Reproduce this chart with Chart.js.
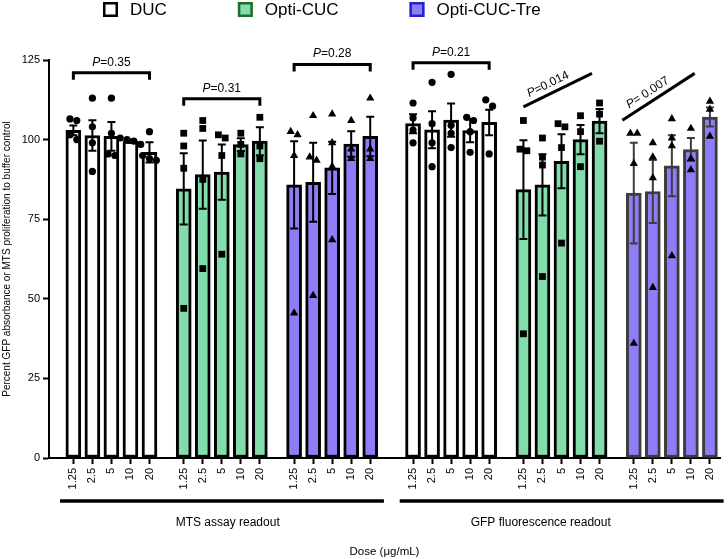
<!DOCTYPE html>
<html>
<head>
<meta charset="utf-8">
<script src="https://cdn.jsdelivr.net/npm/chart.js@4.4.1/dist/chart.umd.min.js"></script>
<style>
  html, body { margin: 0; padding: 0; background: #fff; }
  #wrap { width: 728px; height: 559px; position: relative; }
</style>
</head>
<body>
<div id="wrap"><canvas id="myChart"></canvas></div>
<script>
// categorias
const seriesNames = ["DUC", "Opti-CUC", "Opti-CUC-Tre"];
const readouts = ["MTS assay readout", "GFP fluorescence readout"];
const doseLabels = ["1.25", "2.5", "5", "10", "20"];
const yTicks = [0, 25, 50, 75, 100, 125];

// medias de cada barra
const ducMTS = [102.9, 101.3, 101.0, 99.5, 96.0];
const ducGFP = [105.0, 103.1, 106.1, 102.8, 105.4];
const cucMTS = [84.5, 89.0, 89.8, 98.4, 99.5];
const cucGFP = [84.3, 85.8, 93.2, 100.0, 105.8];
const treMTS = [85.8, 86.6, 91.1, 98.6, 101.0];
const treGFP = [83.2, 83.7, 91.8, 96.9, 107.1];

// error (SEM)
const ducMTSerr = [1.5, 4.8, 4.5, 0.5, 3.2];
const ducGFPerr = [3.0, 5.8, 5.2, 3.6, 4.0];
const cucMTSerr = [11.2, 10.7, 8.7, 2.0, 4.4];
const cucGFPerr = [15.5, 9.6, 8.5, 4.6, 3.8];
const treMTSerr = [13.7, 12.4, 8.2, 4.0, 6.2];
const treGFPerr = [15.8, 9.9, 9.6, 3.6, 3.0];

// puntos individuales
const ducMTSpts = [[106, 106.5, 101.5, 100], [113, 104, 99, 90], [113, 102, 95.5, 95], [100.5, 100, 99.5, 98.5], [102.5, 95, 94, 93.5]];
const ducGFPpts = [[111.5, 106.8, 103, 99], [118, 105, 99, 91.5], [120.5, 104.5, 102, 97.5], [107, 106, 102.5, 96], [112.5, 110.5, 95.5]];
const cucMTSpts = [[102, 98, 91, 47], [103.5, 106, 87.5, 59.5], [100.5, 101.5, 95, 64], [102, 98.5, 95.5], [107, 98, 94]];
const cucGFPpts = [[106, 97, 96.5, 39], [100.5, 94.5, 92, 57], [104, 105, 97.5, 67.5], [107.5, 102.5, 91.5], [111.5, 108, 99.5]];
const treMTSpts = [[101.5, 102.5, 95, 45.5], [107.5, 94.5, 93.5, 51], [108, 99, 91.5, 68.5], [106, 97, 94], [113, 97, 94]];
const treGFPpts = [[102, 102, 92.5, 36], [99, 94.5, 88, 53.5], [106.5, 100.5, 98, 63.5], [103.5, 94, 90.5], [112, 109.5, 101]];

// comparaciones (P)
const pLabels = ["P=0.35", "P=0.31", "P=0.28", "P=0.21", "P=0.014", "P= 0.007"];
const pStartLevel = [121.0, 112.8, 123.6, 124.1, 110.3, 106.1];
const pEndLevel = [121.0, 112.8, 123.6, 124.1, 120.8, 120.8];
const pStartDose = [0, 0, 0, 0, 0, -0.6];
const pEndDose = [4, 4, 4, 4, 3.6, 3.2];

const means = [[ducMTS, ducGFP], [cucMTS, cucGFP], [treMTS, treGFP]];
const errs = [[ducMTSerr, ducGFPerr], [cucMTSerr, cucGFPerr], [treMTSerr, treGFPerr]];
const pts = [[ducMTSpts, ducGFPpts], [cucMTSpts, cucGFPpts], [treMTSpts, treGFPpts]];

const FONT = "'Liberation Sans', Arial, sans-serif";
const barFill = ["#ffffff", "#82dcac", "#8d7ef8"];
const legendBorder = ["#000000", "#1f6e2a", "#2424cc"];
const pointStyles = ["circle", "rect", "triangle"];
const pointRadius = [3.6, 4.8, 4.8];

// posicion en el eje x (unidades de barra)
const GROUP_STEP = 5.8, READOUT_GAP = 0.45;
function xPos(r, s, d) { return (r * 3 + s) * GROUP_STEP + r * READOUT_GAP + d; }

// dispersion horizontal de puntos cercanos
function swarm(vals) {
  const idx = vals.map((v, i) => i).sort((a, b) => vals[b] - vals[a]);
  const offs = new Array(vals.length).fill(0);
  let cluster = [];
  const flush = () => {
    cluster.forEach((k, j) => { offs[k] = (j - (cluster.length - 1) / 2) * 0.36; });
    cluster = [];
  };
  idx.forEach(k => {
    if (cluster.length && vals[cluster[cluster.length - 1]] - vals[k] > 2.3) flush();
    cluster.push(k);
  });
  flush();
  return offs;
}

const tickPositions = [];
for (let r = 0; r < 2; r++) for (let s = 0; s < 3; s++) for (let d = 0; d < 5; d++) tickPositions.push(xPos(r, s, d));

const datasets = [];
seriesNames.forEach((name, s) => {
  const bars = [], sem = [], borders = [], dots = [];
  for (let r = 0; r < 2; r++) {
    for (let d = 0; d < 5; d++) {
      bars.push({ x: xPos(r, s, d), y: means[s][r][d] });
      sem.push(errs[s][r][d]);
      borders.push(s === 2 && r === 1 ? "#3d3d3d" : "#000000");
      const vals = pts[s][r][d];
      const offs = swarm(vals);
      vals.forEach((v, k) => dots.push({ x: xPos(r, s, d) + offs[k], y: v }));
    }
  }
  datasets.push({
    type: "bar", label: name, data: bars, sem: sem, order: 1,
    backgroundColor: barFill[s], borderColor: borders, borderWidth: 3,
    borderSkipped: false, barThickness: 15, grouped: false
  });
  datasets.push({
    type: "scatter", label: name + " points", data: dots, order: 0,
    pointStyle: pointStyles[s], pointRadius: pointRadius[s], pointHoverRadius: pointRadius[s],
    backgroundColor: "#000", borderColor: "#000", borderWidth: 0
  });
});

const errorBars = {
  id: "errorBars",
  afterDatasetDraw(chart, args) {
    if (args.meta.type !== "bar") return;
    const ds = chart.data.datasets[args.index];
    const y = chart.scales.y, ctx = chart.ctx;
    ctx.save();
    ctx.lineWidth = 2;
    args.meta.data.forEach((bar, i) => {
      const m = ds.data[i].y, e = ds.sem[i];
      const top = y.getPixelForValue(m + e), bot = y.getPixelForValue(m - e);
      ctx.strokeStyle = ds.borderColor[i];
      ctx.beginPath();
      ctx.moveTo(bar.x, top); ctx.lineTo(bar.x, bot);
      ctx.moveTo(bar.x - 4, top); ctx.lineTo(bar.x + 4, top);
      ctx.moveTo(bar.x - 4, bot); ctx.lineTo(bar.x + 4, bot);
      ctx.stroke();
    });
    ctx.restore();
  }
};

function drawP(ctx, text, x, y) {
  const rest = text.slice(1);
  ctx.font = "italic 12px " + FONT;
  const wP = ctx.measureText("P").width;
  ctx.font = "12px " + FONT;
  const wR = ctx.measureText(rest).width;
  const x0 = x - (wP + wR) / 2;
  ctx.textAlign = "left";
  ctx.font = "italic 12px " + FONT;
  ctx.fillText("P", x0, y);
  ctx.font = "12px " + FONT;
  ctx.fillText(rest, x0 + wP, y);
}

const extras = {
  id: "extras",
  afterDraw(chart) {
    const ctx = chart.ctx, xs = chart.scales.x, ys = chart.scales.y;
    const area = chart.chartArea;
    ctx.save();
    ctx.fillStyle = "#000";
    ctx.strokeStyle = "#000";
    ctx.textBaseline = "alphabetic";

    // comparaciones
    pLabels.forEach((lab, k) => {
      const r = Math.floor(k / 3), s = k % 3;
      const x1 = xs.getPixelForValue(xPos(r, s, pStartDose[k]));
      const x2 = xs.getPixelForValue(xPos(r, s, pEndDose[k]));
      const y1 = ys.getPixelForValue(pStartLevel[k]);
      const y2 = ys.getPixelForValue(pEndLevel[k]);
      ctx.lineWidth = 3;
      ctx.beginPath();
      if (pStartLevel[k] === pEndLevel[k]) {
        ctx.moveTo(x1, y1 + 7); ctx.lineTo(x1, y1); ctx.lineTo(x2, y2); ctx.lineTo(x2, y2 + 7);
        ctx.stroke();
        drawP(ctx, lab, (x1 + x2) / 2, y1 - 7);
      } else {
        ctx.moveTo(x1, y1); ctx.lineTo(x2, y2);
        ctx.stroke();
        const ang = Math.atan2(y2 - y1, x2 - x1);
        ctx.save();
        ctx.translate(x1 + (x2 - x1) * 0.42, y1 + (y2 - y1) * 0.42);
        ctx.rotate(ang);
        drawP(ctx, lab, 0, -6);
        ctx.restore();
      }
    });

    // lineas de lectura
    const lineOffset = [0.3, -1.1];
    readouts.forEach((name, r) => {
      const a = xs.getPixelForValue(xPos(r, 0, 0) - 0.7);
      const b = xs.getPixelForValue(xPos(r, 2, 4) + 0.72);
      const yl = area.bottom + 43;
      ctx.lineWidth = 3.5;
      ctx.beginPath(); ctx.moveTo(a, yl); ctx.lineTo(b, yl); ctx.stroke();
      ctx.font = "12px " + FONT;
      ctx.textAlign = "center";
      ctx.textBaseline = "middle";
      const mid = (xPos(r, 0, 0) - 0.7 + xPos(r, 2, 4) + 0.72) / 2 + lineOffset[r];
      ctx.fillText(name, xs.getPixelForValue(mid), area.bottom + 65);
      ctx.textBaseline = "alphabetic";
    });

    // leyenda
    ctx.font = "17px " + FONT;
    ctx.textAlign = "left";
    ctx.textBaseline = "middle";
    let lx = 103;
    seriesNames.forEach((name, s) => {
      ctx.fillStyle = barFill[s];
      ctx.fillRect(lx, 2, 15, 15);
      ctx.strokeStyle = legendBorder[s];
      ctx.lineWidth = 2.5;
      ctx.strokeRect(lx + 1.25, 3.25, 12.5, 12.5);
      ctx.fillStyle = "#000";
      ctx.fillText(name, lx + 27, 10.5);
      lx += 27 + ctx.measureText(name).width + 71;
    });
    ctx.restore();
  }
};

let chart = new Chart(document.getElementById("myChart"), {
  type: "bar",
  data: { datasets: datasets },
  plugins: [errorBars, extras],
  options: {
    responsive: true,
    maintainAspectRatio: false,
    animation: false,
    layout: { padding: { top: 60, right: 8, left: 0, bottom: 0 } },
    plugins: { legend: { display: false }, tooltip: { enabled: false } },
    scales: {
      x: {
        type: "linear",
        offset: false,
        min: -1.28,
        max: 33.98,
        afterBuildTicks: (scale) => { scale.ticks = tickPositions.map(v => ({ value: v })); },
        afterFit: (scale) => { scale.height = 101; },
        ticks: {
          autoSkip: false, minRotation: 90, maxRotation: 90, padding: 4,
          color: "#000", font: { size: 11, family: FONT },
          callback: (value, index) => doseLabels[index % 5]
        },
        grid: { offset: false, drawOnChartArea: false, drawTicks: true, tickLength: 6, tickWidth: 2, tickColor: "#000" },
        border: { display: true, color: "#000", width: 2 },
        title: { display: true, text: "Dose (μg/mL)", color: "#000", font: { size: 11.5, family: FONT }, padding: 0 }
      },
      y: {
        min: 0,
        max: 125,
        afterBuildTicks: (scale) => { scale.ticks = yTicks.map(v => ({ value: v })); },
        afterFit: (scale) => { scale.width = 49; },
        ticks: { color: "#000", padding: 3, font: { size: 11, family: FONT } },
        grid: { drawOnChartArea: false, drawTicks: true, tickLength: 6, tickWidth: 2, tickColor: "#000" },
        border: { display: true, color: "#000", width: 2 },
        title: {
          display: true, text: "Percent GFP absorbance or MTS proliferation to buffer control",
          color: "#000", font: { size: 10, family: FONT }, padding: { top: 1, bottom: 0 }
        }
      }
    }
  }
});
</script>
</body>
</html>
